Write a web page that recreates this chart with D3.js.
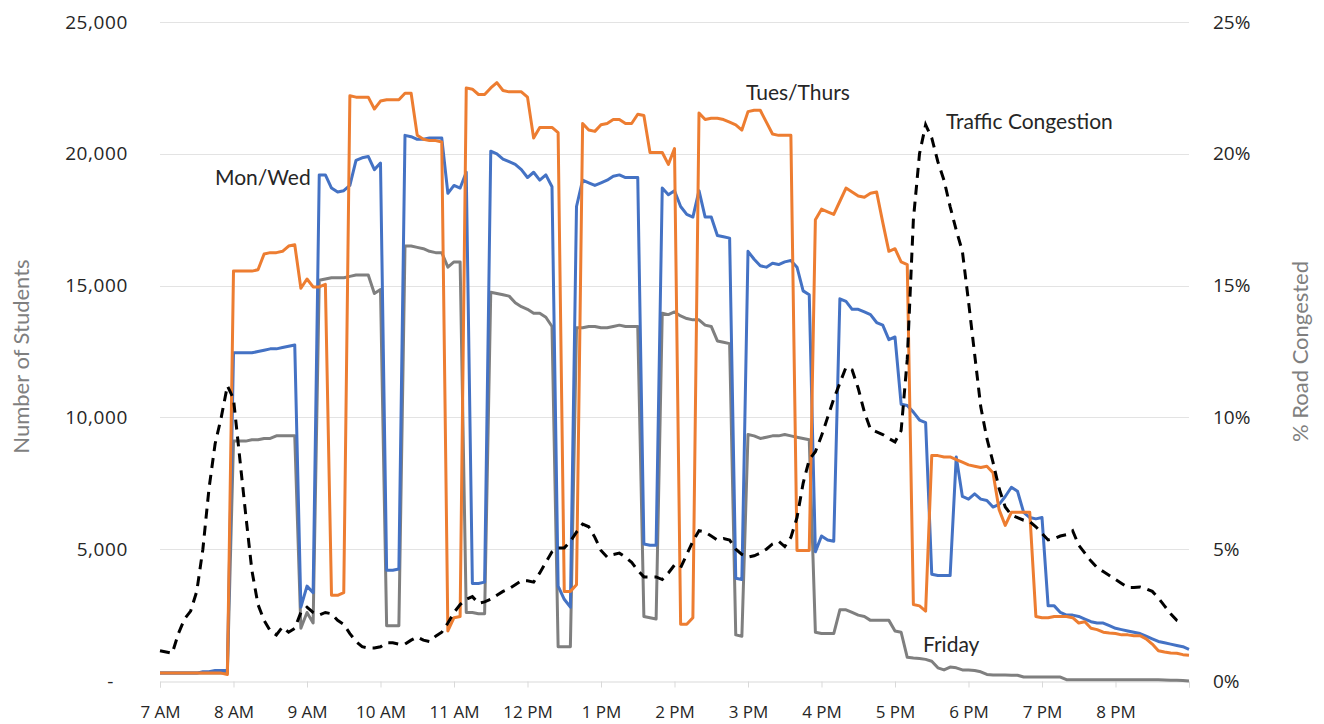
<!DOCTYPE html>
<html>
<head>
<meta charset="utf-8">
<script src="https://cdn.jsdelivr.net/npm/d3@7"></script>
<style>
  body { margin: 0; background: #fff; }
  svg { display: block; }
</style>
</head>
<body>
<svg id="chart" width="1324" height="724"></svg>
<script>
// readings every 5 minutes from 7:00 AM; student counts in thousands
const startTime = new Date(2020, 0, 6, 7, 0);
const stepMinutes = 5;

const monWed = [
  0.3, 0.3, 0.3, 0.3, 0.3, 0.3, 0.3, 0.35, 0.35, 0.4, 0.4, 0.4,
  12.45, 12.45, 12.45, 12.45, 12.5, 12.55, 12.6, 12.6, 12.65, 12.7, 12.75,
  2.8, 3.6, 3.35,
  19.2, 19.2, 18.7, 18.55, 18.6, 18.8, 19.75, 19.85, 19.9, 19.4, 19.65,
  4.2, 4.2, 4.25,
  20.7, 20.65, 20.55, 20.55, 20.6, 20.6, 20.6, 18.5, 18.8, 18.7, 19.3,
  3.7, 3.7, 3.75,
  20.1, 20.0, 19.8, 19.7, 19.6, 19.4, 19.1, 19.3, 19.0, 19.2, 18.75,
  3.6, 3.1, 2.8,
  18.0, 19.0, 18.9, 18.8, 18.9, 19.0, 19.15, 19.2, 19.1, 19.1, 19.1,
  5.2, 5.15, 5.15,
  18.7, 18.45, 18.6, 18.0, 17.7, 17.6, 18.6, 17.6, 17.6, 16.9, 16.85, 16.8,
  3.9, 3.85,
  16.3, 16.0, 15.75, 15.7, 15.85, 15.8, 15.9, 15.95, 15.7, 14.8, 14.65,
  4.9, 5.5, 5.35, 5.3,
  14.5, 14.4, 14.1, 14.1, 14.0, 13.9, 13.6, 13.5, 12.95, 13.05, 10.5, 10.45, 10.2, 9.9, 9.8,
  4.05, 4.0, 4.0, 4.0,
  8.5, 7.0, 6.9, 7.1, 6.9, 6.85, 6.6, 6.7, 7.0, 7.35, 7.2, 6.4, 6.2, 6.15, 6.2,
  2.85, 2.85, 2.6, 2.5, 2.5, 2.45, 2.35, 2.25, 2.2, 2.2, 2.1, 2.0,
  1.95, 1.9, 1.85, 1.8, 1.7, 1.6, 1.5, 1.45, 1.4, 1.35, 1.3, 1.2
];

const tuesThurs = [
  0.3, 0.3, 0.3, 0.3, 0.3, 0.3, 0.3, 0.3, 0.3, 0.3, 0.3, 0.25,
  15.55, 15.55, 15.55, 15.55, 15.6, 16.2, 16.25, 16.25, 16.3, 16.5, 16.55, 14.9, 15.25, 14.95, 14.95, 15.05,
  3.25, 3.25, 3.35,
  22.2, 22.15, 22.15, 22.15, 21.7, 22.0, 22.05, 22.05, 22.05, 22.3, 22.3, 20.7, 20.55, 20.5, 20.5, 20.45,
  1.9, 2.4, 2.45,
  22.5, 22.45, 22.25, 22.25, 22.5, 22.7, 22.4, 22.35, 22.35, 22.35, 22.15, 20.6, 21.0, 21.0, 21.0, 20.8,
  3.4, 3.4, 3.65,
  21.15, 20.9, 20.85, 21.1, 21.15, 21.3, 21.3, 21.15, 21.15, 21.5, 21.45, 20.05, 20.05, 20.05, 19.6, 20.2,
  2.15, 2.15, 2.4,
  21.55, 21.3, 21.35, 21.35, 21.3, 21.2, 21.1, 20.9, 21.6, 21.65, 21.65, 21.2, 20.75, 20.7, 20.7, 20.7,
  4.95, 4.95, 4.95,
  17.5, 17.9, 17.8, 17.7, 18.2, 18.7, 18.55, 18.4, 18.35, 18.5, 18.55, 17.4, 16.3, 16.4, 15.9, 15.8,
  2.9, 2.85, 2.65,
  8.55, 8.55, 8.5, 8.5, 8.4, 8.3, 8.2, 8.15, 8.1, 8.15, 7.9, 6.5, 5.9, 6.4, 6.4, 6.4, 6.4,
  2.45, 2.4, 2.4, 2.45, 2.45, 2.45, 2.4, 2.2, 2.25, 2.0, 1.95, 1.85, 1.82,
  1.8, 1.75, 1.75, 1.72, 1.72, 1.6, 1.4, 1.15, 1.1, 1.06, 1.05, 1.0, 0.98
];

const friday = [
  0.3, 0.3, 0.3, 0.3, 0.3, 0.3, 0.3, 0.3, 0.3, 0.3, 0.3, 0.3,
  9.1, 9.1, 9.1, 9.15, 9.15, 9.2, 9.2, 9.3, 9.3, 9.3, 9.3,
  2.0, 2.6, 2.2,
  15.2, 15.25, 15.3, 15.3, 15.3, 15.35, 15.4, 15.4, 15.4, 14.7, 14.85,
  2.1, 2.1, 2.1,
  16.5, 16.5, 16.45, 16.4, 16.3, 16.25, 16.25, 15.7, 15.9, 15.9,
  2.6, 2.6, 2.55, 2.55,
  14.75, 14.7, 14.65, 14.6, 14.35, 14.2, 14.1, 13.95, 13.95, 13.8, 13.45,
  1.3, 1.3, 1.3,
  13.4, 13.4, 13.45, 13.45, 13.4, 13.4, 13.45, 13.5, 13.45, 13.45, 13.45,
  2.45, 2.4, 2.35,
  13.95, 13.9, 14.0, 13.85, 13.75, 13.7, 13.7, 13.5, 13.45, 12.9, 12.85, 12.8,
  1.75, 1.7,
  9.35, 9.3, 9.2, 9.25, 9.3, 9.3, 9.35, 9.3, 9.25, 9.2, 9.15,
  1.85, 1.8, 1.8, 1.8,
  2.7, 2.7, 2.6, 2.5, 2.45, 2.3, 2.3, 2.3, 2.3, 1.9, 1.85,
  0.9, 0.87, 0.85, 0.82, 0.75,
  0.5, 0.42, 0.53, 0.5, 0.42, 0.42, 0.4, 0.35,
  0.25, 0.23, 0.23, 0.23, 0.22, 0.22,
  0.15, 0.15, 0.15, 0.15, 0.15, 0.15, 0.15,
  0.05, 0.05, 0.05, 0.05, 0.05, 0.05, 0.05, 0.05, 0.05, 0.05, 0.05, 0.05, 0.05, 0.05, 0.05, 0.05,
  0.04, 0.03, 0.03, 0.02, 0.0
];

// % of road congested
const traffic = [
  1.15, 1.1, 1.05, 1.8, 2.35, 2.65, 3.4, 5.0, 7.3, 9.0,
  10.0, 11.2, 10.7, 8.5, 6.3, 4.2, 2.9, 2.3, 1.9, 1.75,
  2.05, 1.85, 2.0, 2.6, 2.8, 2.6, 2.5, 2.6, 2.55, 2.3,
  2.15, 1.8, 1.5, 1.3, 1.25, 1.25, 1.3, 1.45, 1.45, 1.4,
  1.4, 1.55, 1.67, 1.55, 1.5, 1.7, 1.85, 2.2, 2.6, 2.9,
  3.1, 3.2, 2.95, 3.0, 3.1, 3.25, 3.4, 3.5, 3.65, 3.8,
  3.8, 3.75, 4.1, 4.5, 4.9, 5.05, 5.05, 5.3, 5.65, 5.95,
  5.85, 5.45, 4.95, 4.7, 4.8, 4.85, 4.7, 4.5, 4.2, 3.95,
  3.95, 3.95, 3.85, 4.1, 4.4, 4.3, 4.8, 5.3, 5.7, 5.65,
  5.5, 5.35, 5.4, 5.35, 5.0, 4.8, 4.7, 4.75, 4.85, 5.0,
  5.2, 5.3, 5.1, 5.45, 6.2, 7.5, 8.4, 8.7, 9.3, 10.0,
  10.7, 11.3, 11.9, 11.8, 11.1, 10.2, 9.55, 9.45, 9.35, 9.2,
  9.07, 9.5, 12.2, 17.5, 20.0, 21.1, 20.6, 19.7, 19.0, 18.0,
  17.1, 16.3, 14.4, 12.4, 10.4, 9.2, 8.3, 7.3, 6.6, 6.3,
  6.2, 6.1, 6.05, 5.85, 5.6, 5.35, 5.4, 5.5, 5.55, 5.7,
  5.15, 4.85, 4.55, 4.3, 4.15, 4.0, 3.85, 3.7, 3.55, 3.55,
  3.57, 3.5, 3.4, 3.15, 2.85, 2.55, 2.3, 2.2
];

const studentTicks = [0, 5, 10, 15, 20, 25];
const congestionTicks = [0, 5, 10, 15, 20, 25];
const hourLabels = ["7 AM", "8 AM", "9 AM", "10 AM", "11 AM", "12 PM", "1 PM",
  "2 PM", "3 PM", "4 PM", "5 PM", "6 PM", "7 PM", "8 PM", ""];

const seriesLabels = [
  { name: "Mon/Wed", x: 215, y: 185 },
  { name: "Tues/Thurs", x: 746, y: 100 },
  { name: "Traffic Congestion", x: 946, y: 129 },
  { name: "Friday", x: 923, y: 652 },
];

const margin = { top: 22, right: 135, bottom: 43, left: 160 };
const width = 1324, height = 724;

const timeAt = i => d3.timeMinute.offset(startTime, i * stepMinutes);

const x = d3.scaleTime()
  .domain([startTime, d3.timeHour.offset(startTime, 14)])
  .range([margin.left, width - margin.right]);
const y = d3.scaleLinear()
  .domain([0, 25])
  .range([height - margin.bottom, margin.top]);
const y2 = d3.scaleLinear()
  .domain([0, 25])
  .range([height - margin.bottom, margin.top]);

const svg = d3.select("#chart");
const tickFont = "'Open Sans', sans-serif";
const titleFont = "Lato, sans-serif";

// gridlines
svg.append("g")
  .attr("class", "grid")
  .selectAll("line")
  .data(studentTicks.filter(d => d > 0))
  .join("line")
  .attr("x1", margin.left)
  .attr("x2", width - margin.right)
  .attr("y1", d => Math.round(y(d)) + 0.5)
  .attr("y2", d => Math.round(y(d)) + 0.5)
  .attr("stroke", "#e3e3e3")
  .attr("stroke-width", 1);

// x axis
const hourTicks = hourLabels.map((_, i) => d3.timeHour.offset(startTime, i));
const xAxis = svg.append("g")
  .attr("transform", `translate(0,${Math.round(y(0)) + 0.5})`)
  .call(d3.axisBottom(x)
    .tickValues(hourTicks)
    .tickSize(6)
    .tickFormat((d, i) => hourLabels[i]));
xAxis.select(".domain").attr("stroke", "#d9d9d9");
xAxis.selectAll(".tick line").attr("stroke", "#d9d9d9");
xAxis.selectAll(".tick text")
  .attr("y", 24)
  .attr("fill", "#262626")
  .style("font", `17px ${tickFont}`);

// left axis
const leftAxis = svg.append("g")
  .attr("transform", `translate(${margin.left},0)`)
  .call(d3.axisLeft(y)
    .tickValues(studentTicks)
    .tickSize(0)
    .tickPadding(32)
    .tickFormat(d => d === 0 ? "-" : d3.format(",")(d * 1000)));
leftAxis.select(".domain").remove();
leftAxis.selectAll(".tick text")
  .attr("fill", "#262626")
  .style("font", `19px ${tickFont}`)
  .style("letter-spacing", "0.6px");
leftAxis.selectAll(".tick")
  .filter(d => d === 0)
  .select("text")
  .attr("dx", -14);

// right axis
const rightAxis = svg.append("g")
  .attr("transform", `translate(${width - margin.right},0)`)
  .call(d3.axisRight(y2)
    .tickValues(congestionTicks)
    .tickSize(0)
    .tickPadding(24)
    .tickFormat(d => d + "%"));
rightAxis.select(".domain").remove();
rightAxis.selectAll(".tick text")
  .attr("fill", "#262626")
  .style("font", `19px ${tickFont}`);

// axis titles
svg.append("text")
  .attr("transform", `translate(29,${(margin.top + height - margin.bottom) / 2 + 5}) rotate(-90)`)
  .attr("text-anchor", "middle")
  .attr("fill", "#7f7f7f")
  .style("font", `22px ${titleFont}`)
  .text("Number of Students");
svg.append("text")
  .attr("transform", `translate(1308,${(margin.top + height - margin.bottom) / 2}) rotate(-90)`)
  .attr("text-anchor", "middle")
  .attr("fill", "#7f7f7f")
  .style("font", `22px ${titleFont}`)
  .text("% Road Congested");

// student lines
const studentLine = d3.line()
  .x((d, i) => x(timeAt(i)))
  .y(d => y(d));

const series = [
  { name: "friday", values: friday, color: "#7f7f7f" },
  { name: "monWed", values: monWed, color: "#4472c4" },
  { name: "tuesThurs", values: tuesThurs, color: "#ed7d31" },
];

svg.append("g")
  .attr("id", "students")
  .selectAll("path")
  .data(series)
  .join("path")
  .attr("d", d => studentLine(d.values))
  .attr("fill", "none")
  .attr("stroke", d => d.color)
  .attr("stroke-width", 3)
  .attr("stroke-linejoin", "round");

// congestion line
const trafficLine = d3.line()
  .x((d, i) => x(timeAt(i)))
  .y(d => y2(d));

svg.append("path")
  .attr("d", trafficLine(traffic))
  .attr("fill", "none")
  .attr("stroke", "#000")
  .attr("stroke-width", 3)
  .attr("stroke-dasharray", "10,7");

// series labels
svg.append("g")
  .attr("id", "labels")
  .selectAll("text")
  .data(seriesLabels)
  .join("text")
  .attr("x", d => d.x)
  .attr("y", d => d.y)
  .attr("fill", "#262626")
  .style("font", `21px ${titleFont}`)
  .text(d => d.name);
</script>
</body>
</html>
